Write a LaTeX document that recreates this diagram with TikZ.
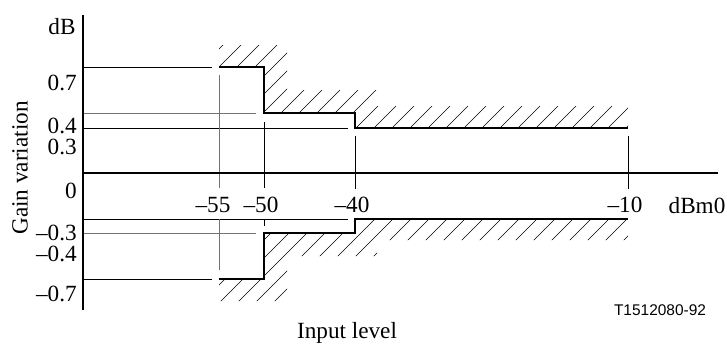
\documentclass[tikz,border=0pt]{standalone}
\usepackage{fontspec}
\setmainfont{Liberation Serif}
\newfontfamily\codefont{Liberation Sans}
\begin{document}
\begin{tikzpicture}[x=0.025cm,y=-0.025cm,
	axisline/.style={line width=1.4pt},
	bound/.style={line width=0.9pt},
	grid/.style={line width=0.5pt},
	gridgray/.style={line width=0.6pt, color=black!55},
	hatch/.style={line width=0.45pt},
	lbl/.style={inner sep=0pt, font=\fontsize{16.5}{18}\selectfont}]
			%%%%% START %%%%%
			\useasboundingbox (0,0) rectangle (727,345);
			
			% hatched bands
			\begin{scope}
				\clip (219,45) -- (287,45) -- (287,90) -- (377,90) -- (377,106) -- (628,106) -- (628,128) -- (355,128) -- (355,113) -- (264,113) -- (264,67) -- (219,67) -- cycle;
				\foreach \c in {250,268,...,1000}
					\draw[hatch] ({\c-30},30) -- ({\c-330},330);
			\end{scope}
			\begin{scope}
				\clip (219,301) -- (287,301) -- (287,256) -- (377,256) -- (377,240) -- (628,240) -- (628,219) -- (355,219) -- (355,233) -- (264,233) -- (264,279) -- (219,279) -- cycle;
				\foreach \c in {450,468,...,1200}
					\draw[hatch] ({\c-200},200) -- ({\c-330},330);
			\end{scope}
			
			% grid lines
			\draw[grid] (83,67) -- (212,67);
			\draw[gridgray] (83,113) -- (256,113);
			\draw[grid] (83,128) -- (348,128);
			\draw[grid] (83,219) -- (348,219);
			\draw[gridgray] (83,233) -- (256,233);
			\draw[grid] (83,279) -- (212,279);
			
			\draw[gridgray] (219,75) -- (219,188);
			\draw[gridgray] (219,219) -- (219,270);
			\draw[grid] (264,122) -- (264,188);
			\draw[grid] (264,219) -- (264,226);
			\draw[grid] (355,136) -- (355,189);
			\draw[grid] (628,136) -- (628,189);
			
			% limits
			\draw[bound] (219,67) -- (264,67) -- (264,113) -- (355,113) -- (355,128) -- (628,128);
			\draw[bound] (219,279) -- (264,279) -- (264,233) -- (355,233) -- (355,219) -- (628,219);
			
			% axes
			\draw[axisline] (83,15) -- (83,310);
			\draw[axisline] (83,173) -- (718,173);
			
			% labels
			\node[lbl] (unitdb) at (62,27) {dB};
			\node[lbl, anchor=east] (yp7) at (77,83) {0.7};
			\node[lbl, anchor=east] (yp4) at (77,126) {0.4};
			\node[lbl, anchor=east] (yp3) at (77,147) {0.3};
			\node[lbl, anchor=east] (yzero) at (77,191) {0};
			\node[lbl, anchor=east] (ym3) at (77,233) {--0.3};
			\node[lbl, anchor=east] (ym4) at (77,254) {--0.4};
			\node[lbl, anchor=east] (ym7) at (77,294) {--0.7};
			\node[lbl, rotate=90] (ytitle) at (20,168) {Gain variation};
			
			\node[lbl] (xm55) at (213,205) {--55};
			\node[lbl] (xm50) at (261,205) {--50};
			\node[lbl] (xm40) at (352,205) {--40};
			\node[lbl] (xm10) at (625,205) {--10};
			\node[lbl] (unitdbm) at (697,206) {dBm0};
			\node[lbl] (xtitle) at (347,333) {Input level};
			\node[inner sep=0pt, font=\codefont\fontsize{11}{12}\selectfont] (figcode) at (660,310) {T1512080-92};
			
			%%%%% END %%%%%
\end{tikzpicture}
\end{document}
